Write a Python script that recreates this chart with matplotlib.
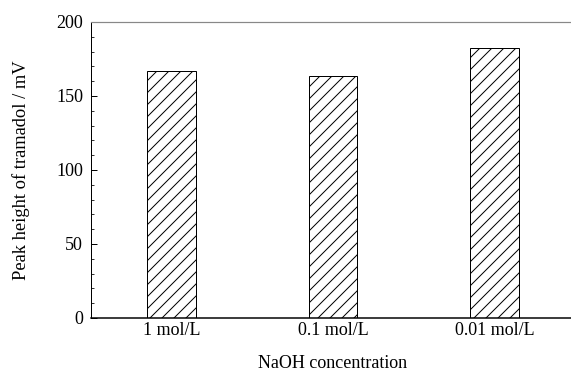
import matplotlib
matplotlib.use('Agg')
import matplotlib.pyplot as plt
from matplotlib.ticker import MultipleLocator

categories = ['1 mol/L', '0.1 mol/L', '0.01 mol/L']
peak_height = [167, 163.5, 182.5]

# at dpi 72 one point is one pixel
DPI = 72
plt.rcParams['font.family'] = ['Liberation Serif', 'DejaVu Serif']
plt.rcParams['hatch.linewidth'] = 1.0

fig = plt.figure(figsize=(571 / DPI, 376 / DPI), dpi=DPI)
ax = fig.add_axes([91 / 571, 58 / 376, 484 / 571, 296 / 376])

x = range(len(categories))
ax.bar(x, peak_height, width=0.3, color='white', edgecolor='black',
       linewidth=1.0, hatch='//')

ax.set_xlim(-0.5, 2.5)
ax.set_ylim(0, 200)
ax.set_xticks(list(x))
ax.set_xticklabels(categories, fontsize=18)
ax.yaxis.set_major_locator(MultipleLocator(50))
ax.yaxis.set_minor_locator(MultipleLocator(10))
ax.tick_params(axis='y', which='major', direction='in', length=6, width=1,
               labelsize=18, pad=8)
ax.tick_params(axis='y', which='minor', direction='in', length=3, width=0.8)
ax.tick_params(axis='x', length=0, pad=4)

ax.spines['right'].set_visible(False)
ax.spines['top'].set_color('#888888')
ax.spines['top'].set_linewidth(1.2)
ax.spines['left'].set_linewidth(1.0)
ax.spines['bottom'].set_linewidth(1.5)

ax.set_ylabel('Peak height of tramadol / mV', fontsize=18.5, labelpad=26)
ax.set_xlabel('NaOH concentration', fontsize=18, labelpad=16)

fig.savefig('out.png', dpi=DPI)
